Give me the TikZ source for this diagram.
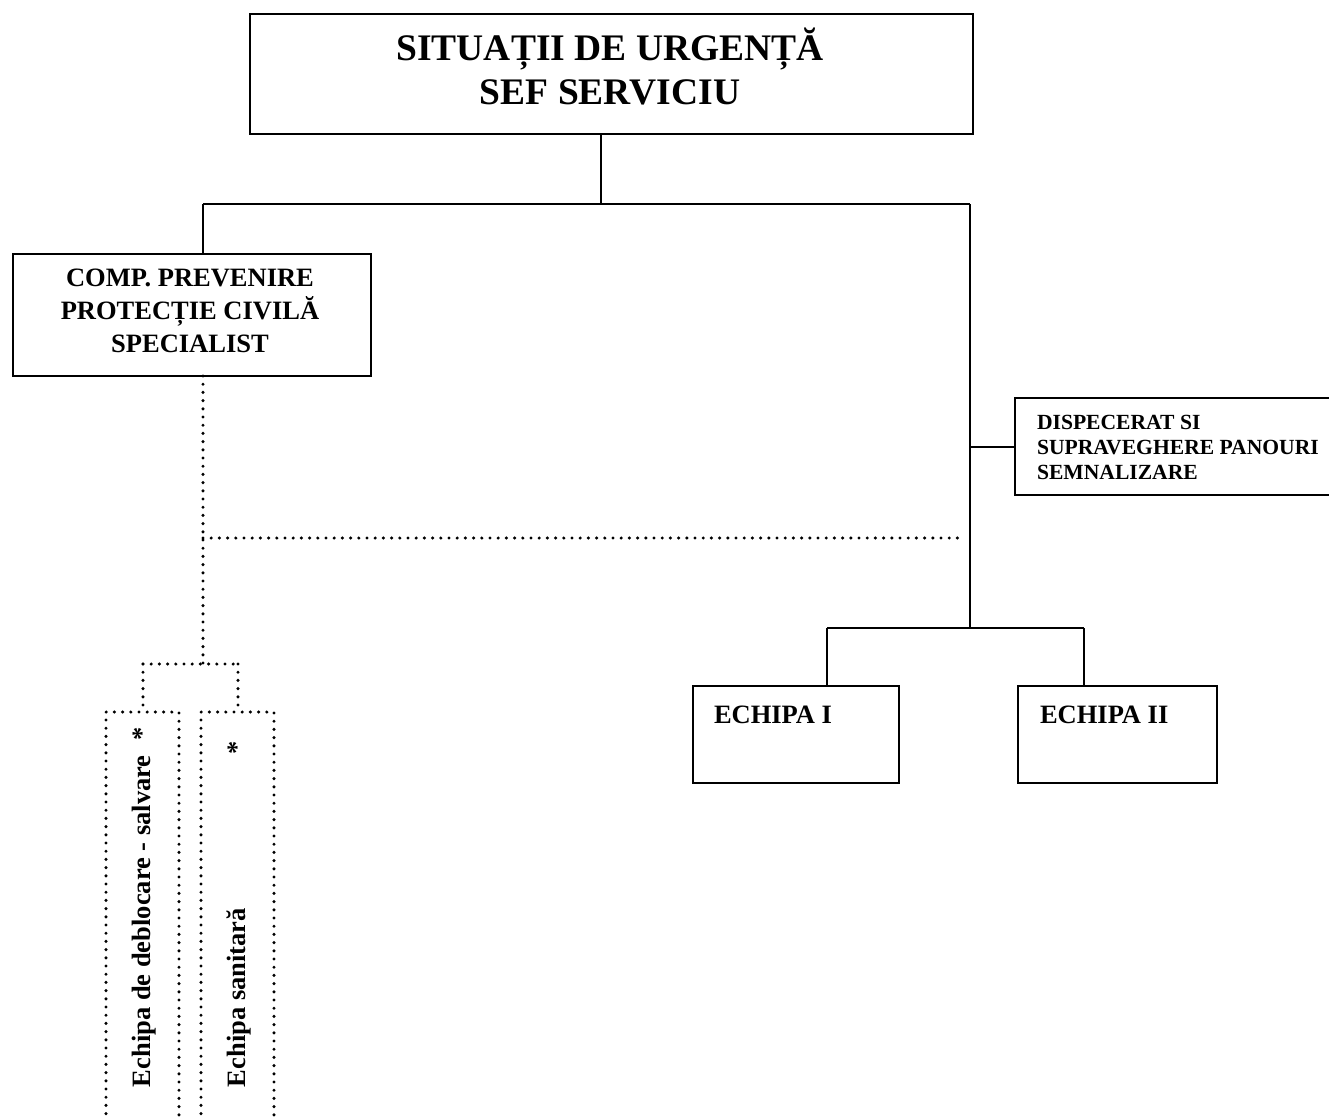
\documentclass[tikz,border=0pt]{standalone}
\usepackage{fontspec}
\setmainfont{Liberation Serif}
\begin{document}
\begin{tikzpicture}[x=1pt,y=-1pt,
  box/.style={draw, line width=2.2pt, inner sep=0pt, outer sep=0pt},
  dotbox/.style={draw, line width=3.4pt, dash pattern=on 0pt off 8.2pt, line cap=round, inner sep=0pt, outer sep=0pt},
  conn/.style={line width=2pt},
  dotconn/.style={line width=3.4pt, dash pattern=on 0pt off 8.2pt, line cap=round},
  big/.style={font=\fontsize{37.5}{44}\selectfont\bfseries},
  mid/.style={font=\fontsize{26.5}{33}\selectfont\bfseries},
  small/.style={font=\fontsize{21.6}{25}\selectfont\bfseries},
  txt/.style={inner sep=0pt, outer sep=0pt}]
\useasboundingbox (0,0) rectangle (1329,1119);

% boxes
\node[box, minimum width=723pt, minimum height=120pt] (top) at (611.5,74) {};
\node[box, minimum width=358pt, minimum height=122pt] (comp) at (192,315) {};
\node[box, minimum width=330pt, minimum height=97pt] (disp) at (1180,446.5) {};
\node[box, minimum width=206pt, minimum height=97pt] (e1) at (796,734.5) {};
\node[box, minimum width=199pt, minimum height=97pt] (e2) at (1117.5,734.5) {};
\node[dotbox, minimum width=73pt, minimum height=420pt] (d1) at (142.5,922) {};
\node[dotbox, minimum width=73pt, minimum height=420pt] (d2) at (237.5,922) {};

% texts
\node[txt, big, anchor=base] (t1) at (610,60) {SITUAȚII DE URGENȚĂ};
\node[txt, big, anchor=base] (t2) at (610,104) {SEF SERVICIU};
\node[txt, mid, anchor=base] (c1) at (190,286) {COMP. PREVENIRE};
\node[txt, mid, anchor=base] (c2) at (190,319) {PROTECȚIE CIVILĂ};
\node[txt, mid, anchor=base] (c3) at (190,352) {SPECIALIST};
\node[txt, small, anchor=base west] (s1) at (1037,429) {DISPECERAT SI};
\node[txt, small, anchor=base west] (s2) at (1037,454) {SUPRAVEGHERE PANOURI};
\node[txt, small, anchor=base west] (s3) at (1037,479) {SEMNALIZARE};
\node[txt, mid, anchor=base west] (et1) at (714,723) {ECHIPA I};
\node[txt, mid, anchor=base west] (et2) at (1040,723) {ECHIPA II};
\node[txt, mid, rotate=90, anchor=west] (r1) at (144,1087) {Echipa de deblocare - salvare\hspace{15pt}*};
\node[txt, mid, rotate=90, anchor=west] (r2) at (239,1087) {Echipa sanitară\hspace{154pt}*};

% junction coordinates
\coordinate (j1) at (601,204);
\coordinate (jL) at (203,204);
\coordinate (jR) at (970,204);
\coordinate (jE) at (970,628);
\coordinate (bL) at (827,628);
\coordinate (bR) at (1084,628);
\coordinate (dH) at (203,538);
\coordinate (dE) at (965,538);
\coordinate (dB) at (203,664);
\coordinate (bdL) at (143,664);
\coordinate (bdR) at (238,664);

% solid connectors
\draw[conn] (top.south -| j1) -- (j1);
\draw[conn] (jL) -- (jR);
\draw[conn] (jL) -- (comp.north -| jL);
\draw[conn] (jR) -- (jE);
\draw[conn] (disp.west -| jR) -- (disp.west);
\draw[conn] (bL) -- (bR);
\draw[conn] (bL) -- (e1.north -| bL);
\draw[conn] (bR) -- (e2.north -| bR);

% dotted connectors
\draw[dotconn] (comp.south -| jL) -- (dB);
\draw[dotconn] (dH) -- (dE);
\draw[dotconn] (bdL) -- (bdR);
\draw[dotconn] (bdL) -- (d1.north -| bdL);
\draw[dotconn] (bdR) -- (d2.north -| bdR);
\end{tikzpicture}
\end{document}
